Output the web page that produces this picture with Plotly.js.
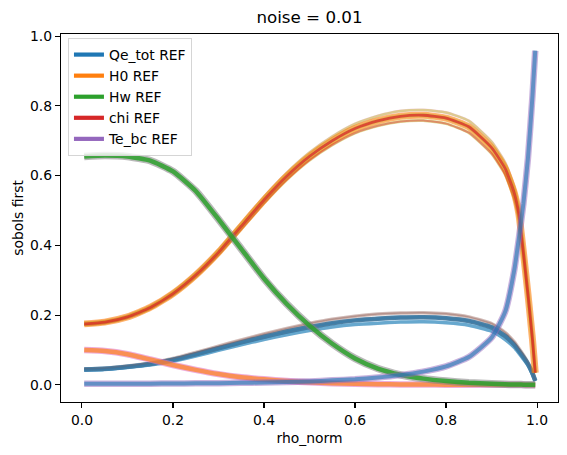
<!DOCTYPE html>
<html>
<head>
<meta charset="utf-8">
<script src="https://cdn.plot.ly/plotly-3.0.1.min.js"></script>
<style>
  html, body { margin: 0; padding: 0; background: #ffffff; }
  #chart { width: 567px; height: 455px; }
</style>
</head>
<body>
<div id="chart"></div>
<script>
// Normalised radius grid shared by every curve
const rho = [0.005, 0.05, 0.1, 0.15, 0.2, 0.25, 0.3, 0.35, 0.4, 0.45, 0.5, 0.55, 0.6,
             0.65, 0.7, 0.75, 0.8, 0.85, 0.9, 0.93, 0.95, 0.96, 0.97, 0.98, 0.99, 0.996];

// First-order Sobol indices, reference run
const qeTot = [0.044, 0.046, 0.052, 0.06, 0.072, 0.088, 0.105, 0.122, 0.138, 0.153, 0.166, 0.177, 0.185,
               0.19, 0.193, 0.194, 0.191, 0.183, 0.165, 0.14, 0.115, 0.098, 0.08, 0.06, 0.033, 0.012];
const h0 = [0.100, 0.097, 0.088, 0.073, 0.057, 0.043, 0.031, 0.022, 0.016, 0.011, 0.0075, 0.005, 0.0033,
            0.0022, 0.0015, 0.001, 0.0007, 0.0005, 0.0003, 0.0002, 0.0001, 0.0001, 0.0001, 0, 0, 0];
const hw = [0.655, 0.658, 0.655, 0.643, 0.612, 0.556, 0.475, 0.39, 0.305, 0.232, 0.17, 0.118, 0.076,
            0.047, 0.029, 0.018, 0.011, 0.006, 0.003, 0.002, 0.001, 0.001, 0.0008, 0.0005, 0.0003, 0.0002];
const chi = [0.175, 0.18, 0.195, 0.222, 0.262, 0.315, 0.38, 0.455, 0.53, 0.598, 0.655, 0.70, 0.735,
             0.757, 0.77, 0.773, 0.765, 0.74, 0.68, 0.62, 0.55, 0.49, 0.38, 0.26, 0.13, 0.035];
const teBc = [0.003, 0.003, 0.003, 0.0035, 0.004, 0.0045, 0.005, 0.006, 0.007, 0.0085, 0.010, 0.013, 0.016,
              0.021, 0.028, 0.038, 0.053, 0.08, 0.135, 0.21, 0.33, 0.42, 0.52, 0.65, 0.83, 0.958];

// Noisy sample runs bracketing the reference (upper / lower members)
const qeTotHi = [0.046, 0.048, 0.054, 0.063, 0.076, 0.093, 0.111, 0.129, 0.146, 0.162, 0.176, 0.188, 0.197,
                 0.203, 0.206, 0.207, 0.204, 0.195, 0.176, 0.15, 0.123, 0.105, 0.086, 0.064, 0.036, 0.013];
const qeTotLo = [0.042, 0.044, 0.05, 0.057, 0.068, 0.083, 0.099, 0.115, 0.130, 0.144, 0.156, 0.166, 0.173,
                 0.177, 0.180, 0.181, 0.178, 0.171, 0.154, 0.13, 0.107, 0.091, 0.074, 0.056, 0.030, 0.011];
const chiHi = [0.178, 0.183, 0.198, 0.226, 0.267, 0.321, 0.387, 0.463, 0.539, 0.608, 0.666, 0.712, 0.748,
               0.771, 0.785, 0.788, 0.781, 0.757, 0.697, 0.637, 0.567, 0.507, 0.395, 0.272, 0.14, 0.036];
const chiLo = [0.172, 0.177, 0.192, 0.218, 0.257, 0.309, 0.373, 0.447, 0.521, 0.588, 0.644, 0.688, 0.722,
               0.743, 0.755, 0.758, 0.749, 0.723, 0.663, 0.603, 0.533, 0.473, 0.365, 0.248, 0.12, 0.034];

const legendNames = ['Qe_tot REF', 'H0 REF', 'Hw REF', 'chi REF', 'Te_bc REF'];
const legendColors = ['#1f77b4', '#ff7f0e', '#2ca02c', '#d62728', '#9467bd'];

function curve(y, color, width, opacity) {
  return {
    type: 'scatter', mode: 'lines', x: rho, y: y,
    line: { color: color, width: width, shape: 'spline', smoothing: 0.5 },
    opacity: opacity, showlegend: false, hoverinfo: 'skip'
  };
}

const traces = [
  // Qe_tot bundle
  curve(qeTotHi, '#8c564b', 3.5, 0.4),
  curve(qeTotLo, '#17becf', 3, 0.2),
  curve(qeTotLo, '#1f77b4', 3.5, 0.6),
  curve(qeTot, '#1f77b4', 4.5, 0.9),
  curve(qeTot, '#7f7f7f', 4, 0.45),
  curve(qeTotHi, '#8c564b', 1.5, 0.4),
  curve(qeTot, '#1f77b4', 2.5, 0.4),
  // chi bundle
  curve(chiHi, '#e377c2', 3, 0.3),
  curve(chiLo, '#bcbd22', 3, 0.45),
  curve(chiHi, '#bcbd22', 2.5, 0.45),
  curve(chi, '#ff7f0e', 7, 0.6),
  curve(chiLo, '#d62728', 2, 0.45),
  curve(chi, '#bcbd22', 4.5, 0.35),
  curve(chi, '#d62728', 2.8, 0.75),
  // H0 bundle
  curve(h0, '#e377c2', 6.5, 0.6),
  curve(h0, '#ff7f0e', 4.5, 0.65),
  // Hw bundle
  curve(hw, '#7f7f7f', 7.5, 0.55),
  curve(hw, '#2ca02c', 4.5, 0.85),
  // Te_bc bundle
  curve(teBc, '#9467bd', 6.5, 0.5),
  curve(teBc, '#1f77b4', 4, 0.6)
];

// Legend entries for the reference runs
legendNames.forEach((name, i) => {
  traces.push({
    type: 'scatter', mode: 'lines', x: [null], y: [null], name: name,
    line: { color: legendColors[i], width: 4.2 }, showlegend: true, hoverinfo: 'skip'
  });
});

const font = 'DejaVu Sans, sans-serif';

const axisCommon = {
  showgrid: false, zeroline: false,
  showline: true, linecolor: '#000000', linewidth: 1.1, mirror: true,
  ticks: 'outside', ticklen: 5, tickwidth: 1.1, tickcolor: '#000000',
  tickfont: { family: font, size: 13.9, color: '#000000' },
  tickformat: '.1f', dtick: 0.2, tick0: 0
};

const layout = {
  width: 567, height: 455,
  margin: { l: 61, r: 9, t: 34, b: 53 },
  paper_bgcolor: '#ffffff', plot_bgcolor: '#ffffff',
  font: { family: font, color: '#000000' },
  title: {
    text: 'noise = 0.01',
    font: { family: font, size: 16.7, color: '#000000' },
    x: 0.5, xref: 'paper', xanchor: 'center',
    y: 1 - 17 / 455, yref: 'container', yanchor: 'middle'
  },
  xaxis: Object.assign({}, axisCommon, {
    range: [-0.046, 1.046],
    title: { text: 'rho_norm', font: { family: font, size: 13.9, color: '#000000' }, standoff: 6 }
  }),
  yaxis: Object.assign({}, axisCommon, {
    range: [-0.049, 1.006],
    title: { text: 'sobols first', font: { family: font, size: 13.9, color: '#000000' }, standoff: 3 }
  }),
  showlegend: true,
  legend: {
    x: 0.014, y: 0.989, xanchor: 'left', yanchor: 'top',
    bgcolor: 'rgba(255,255,255,0.8)', bordercolor: '#d5d5d5', borderwidth: 1,
    font: { family: font, size: 13.9, color: '#000000' },
    traceorder: 'normal', itemwidth: 30
  }
};

Plotly.newPlot('chart', traces, layout, { displayModeBar: false, staticPlot: true });
</script>
</body>
</html>
